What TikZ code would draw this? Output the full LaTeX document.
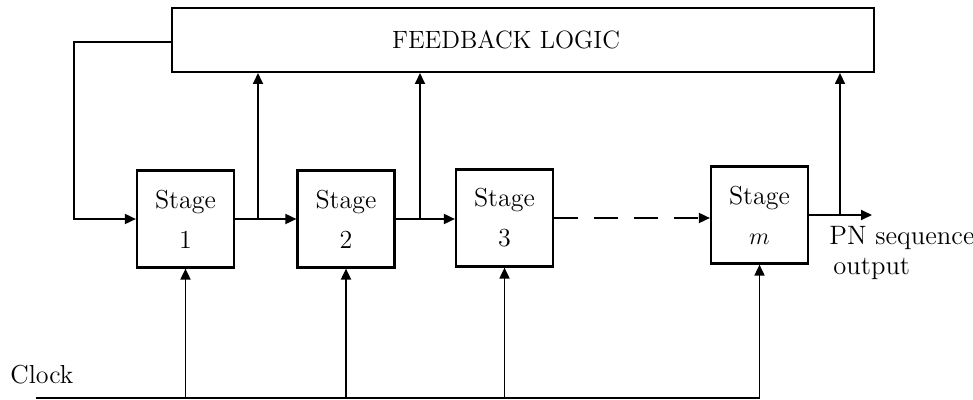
\documentclass[tikz,border=0pt]{standalone}
\usetikzlibrary{arrows.meta}
\begin{document}
\begin{tikzpicture}[x=0.5pt,y=-0.5pt,
  txt/.style={font=\fontsize{13}{20}\selectfont},
  stagebox/.style={draw,line width=1.1pt,minimum width=48.5pt,minimum height=48.5pt,inner sep=0pt,align=center,txt},
  wire/.style={line width=0.9pt},
  arr/.style={wire,-{Triangle[length=5.5pt,width=5pt]}}]
\useasboundingbox (0,0) rectangle (973,400);
\node[draw,line width=1pt,minimum width=351pt,minimum height=32pt,inner sep=0pt] (fb) at (523,40) {};
\node[anchor=base,font=\fontsize{12.5}{15}\selectfont] (fbl) at (506,49) {FEEDBACK LOGIC};
\node[stagebox] (s1) at (185.5,219) {Stage\\1};
\node[stagebox] (s2) at (346,219) {Stage\\2};
\node[stagebox] (s3) at (504.5,218) {Stage\\3};
\node[stagebox] (sm) at (759.5,215) {Stage\\$m$};
\node[anchor=base west,align=left,font=\fontsize{13.3}{15}\selectfont,inner sep=0pt] (pn) at (829,275) {PN sequence\\\hspace*{2pt}output};
\node[txt,anchor=base west,inner sep=0pt] (clkl) at (10,383) {Clock};
% coordinates
\coordinate (k1) at (74,42);
\coordinate (t1) at (258,219);
\coordinate (t2) at (420,219);
\coordinate (t3) at (840,215);
\coordinate (out) at (872,215);
\coordinate (clk) at (36,398);
% feedback loop
\draw[arr] (fb.west |- k1) -- (k1) |- (s1.west);
% stage chain
\draw[arr] (s1.east) -- (s2.west |- s1.east);
\draw[arr] (s2.east) -- (s3.west |- s2.east);
\draw[arr,dash pattern=on 12pt off 8pt] (s3.east) -- (sm.west |- s3.east);
\draw[arr] (sm.east) -- (out);
% taps
\draw[arr] (t1) -- (t1 |- fb.south);
\draw[arr] (t2) -- (t2 |- fb.south);
\draw[arr] (t3) -- (t3 |- fb.south);
% clock
\draw[arr] (clk) -| (sm.south);
\draw[arr] (s1.south |- clk) -- (s1.south);
\draw[arr] (s2.south |- clk) -- (s2.south);
\draw[arr] (s3.south |- clk) -- (s3.south);
\end{tikzpicture}
\end{document}
